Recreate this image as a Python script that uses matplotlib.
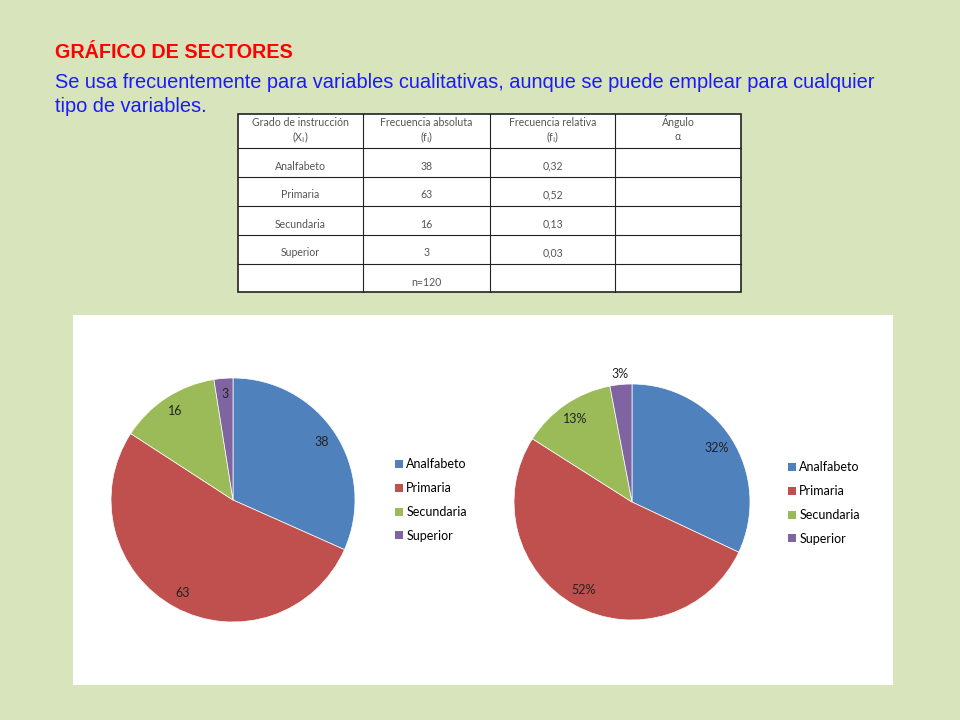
import matplotlib.pyplot as plt
from matplotlib.patches import Patch, Rectangle
import numpy as np

# Datos de la tabla
categorias = ['Analfabeto', 'Primaria', 'Secundaria', 'Superior']
frec_abs = [38, 63, 16, 3]
frec_rel = [0.32, 0.52, 0.13, 0.03]
n_total = 120
encabezados = ['Grado de instrucción\n(X$_{\\mathrm{i}}$)', 'Frecuencia absoluta\n(f$_{\\mathrm{i}}$)',
               'Frecuencia relativa\n(f$_{\\mathrm{i}}$)', 'Ángulo\nα']
colores = ['#4f81bd', '#c0504d', '#9bbb59', '#8064a2']

W, H = 960, 720
fig = plt.figure(figsize=(9.6, 7.2), dpi=100)
fig.patch.set_facecolor('#d8e4bc')

fuente = ['Lato', 'DejaVu Sans']


def caja(x, y, w, h):
    # caja en pixeles (desde arriba) -> fracciones de figura
    return [x / W, 1 - (y + h) / H, w / W, h / H]


# capa de fondo en coordenadas de pixel
bg = fig.add_axes([0, 0, 1, 1])
bg.set_xlim(0, W)
bg.set_ylim(H, 0)
bg.axis('off')

# Titulos
bg.text(55, 52, 'GRÁFICO DE SECTORES', color='#ff0000', fontsize=14.2,
        fontweight='bold', family='Liberation Sans', va='center')
bg.text(55, 83, 'Se usa frecuentemente para variables cualitativas, aunque se puede emplear para cualquier',
        color='#1a1aff', fontsize=14.4, family='Liberation Sans', va='center')
bg.text(55, 106, 'tipo de variables.', color='#1a1aff', fontsize=14.4,
        family='Liberation Sans', va='center')

# Tabla
col_x = [238, 363, 490, 615, 741]
fila_y = [114, 148, 177, 206, 235, 264, 292]
bg.add_patch(Rectangle((col_x[0], fila_y[0]), col_x[-1] - col_x[0], fila_y[-1] - fila_y[0],
                       facecolor='white', edgecolor='#222222', linewidth=1.2))
for x in col_x[1:-1]:
    bg.plot([x, x], [fila_y[0], fila_y[-1]], color='#222222', linewidth=0.8)
for y in fila_y[1:-1]:
    bg.plot([col_x[0], col_x[-1]], [y, y], color='#222222', linewidth=0.8)

gris = '#555555'
centros = [(col_x[i] + col_x[i + 1]) / 2 for i in range(4)]
for cx, enc in zip(centros, encabezados):
    l1, l2 = enc.split('\n')
    bg.text(cx, 122, l1, ha='center', va='center', fontsize=7.6, color=gris, family=fuente)
    bg.text(cx, 137, l2, ha='center', va='center', fontsize=7.6, color=gris, family=fuente)

for i, cat in enumerate(categorias):
    yb = fila_y[i + 2] - 11
    bg.text(centros[0], yb, cat, ha='center', va='center', fontsize=7.6, color=gris, family=fuente)
    bg.text(centros[1], yb, str(frec_abs[i]), ha='center', va='center', fontsize=7.6,
            color=gris, family=fuente)
    bg.text(centros[2], yb, f'{frec_rel[i]:.2f}'.replace('.', ','), ha='center', va='center',
            fontsize=7.6, color=gris, family=fuente)
bg.text(centros[1], fila_y[-1] - 9, f'n={n_total}', ha='center', va='center', fontsize=7.6,
        color=gris, family=fuente)

# Panel blanco del grafico
bg.add_patch(Rectangle((73, 315), 820, 370, facecolor='white', edgecolor='none'))

# Pie 1: frecuencias absolutas
ax1 = fig.add_axes(caja(111, 378, 244, 244))
total = sum(frec_abs)
w1, _, t1 = ax1.pie(frec_abs, colors=colores, startangle=90, counterclock=False,
                    autopct=lambda p: f'{p * total / 100:.0f}', pctdistance=0.87,
                    wedgeprops=dict(edgecolor='white', linewidth=0.5),
                    textprops=dict(fontsize=9, color='#222222', family=fuente))
ax1.set_xlim(-1, 1)
ax1.set_ylim(-1, 1)

# Pie 2: frecuencias relativas
ax2 = fig.add_axes(caja(514, 384, 236, 236))
w2, _, t2 = ax2.pie(frec_rel, colors=colores, startangle=90, counterclock=False,
                    autopct=lambda p: f'{p:.0f}%', pctdistance=0.85,
                    wedgeprops=dict(edgecolor='white', linewidth=0.5),
                    textprops=dict(fontsize=9, color='#222222', family=fuente))
ax2.set_xlim(-1, 1)
ax2.set_ylim(-1, 1)
# etiqueta de la cuña pequeña fuera del pastel
ang = np.deg2rad((w2[-1].theta1 + w2[-1].theta2) / 2)
t2[-1].set_position((1.09 * np.cos(ang), 1.09 * np.sin(ang)))

# Leyendas
handles = [Patch(facecolor=c, edgecolor='none') for c in colores]
for x0, y0 in [(395, 500), (788, 503)]:
    fig.legend(handles, categorias, loc='center left', bbox_to_anchor=(x0 / W, 1 - y0 / H),
               frameon=False, handlelength=0.6, handleheight=0.6, handletextpad=0.3,
               labelspacing=0.95, borderpad=0, borderaxespad=0,
               prop=dict(family=fuente, size=9))

plt.savefig('out.png', dpi=100, facecolor=fig.get_facecolor())
